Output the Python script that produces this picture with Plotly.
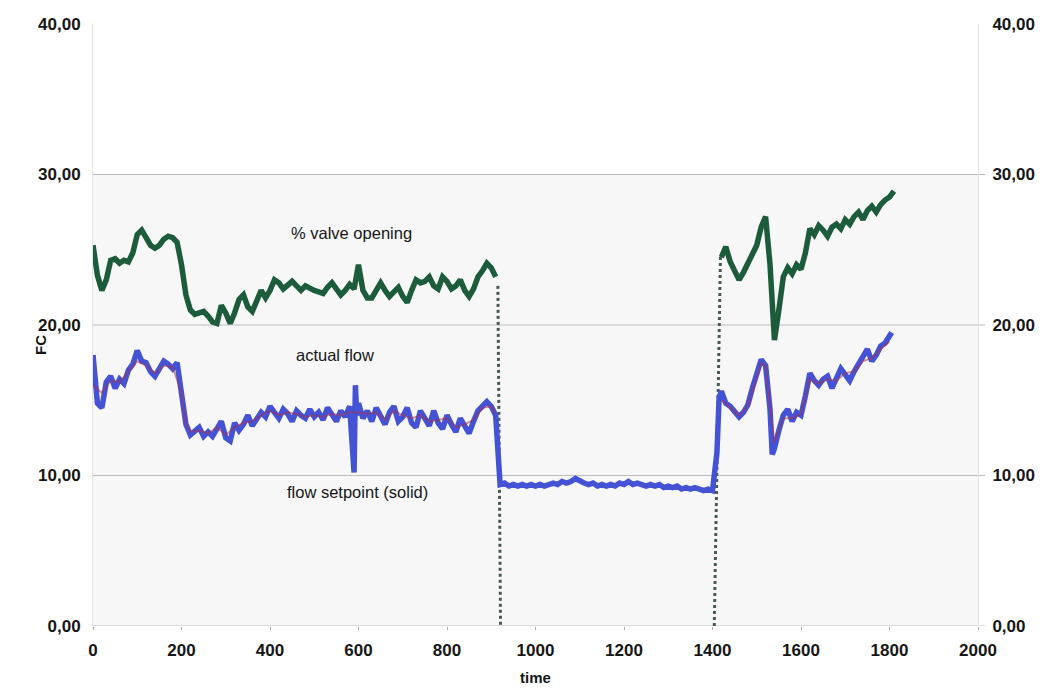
import plotly.graph_objects as go

# ---------------- data ----------------
# % valve opening, first run (t = 0 .. 910, step 10)
valve_t1 = list(range(0, 920, 10))
valve_v1 = [25.3, 23.3, 22.3, 23.0, 24.3, 24.4, 24.1, 24.3, 24.2, 24.8,
            26.0, 26.3, 25.8, 25.3, 25.1, 25.3, 25.7, 25.9, 25.8, 25.5,
            24.0, 22.0, 21.0, 20.7, 20.8, 20.9, 20.6, 20.2, 20.1, 21.3,
            20.8, 20.1, 20.8, 21.7, 22.0, 21.2, 20.9, 21.6, 22.3, 21.8,
            22.3, 23.0, 22.8, 22.4, 22.7, 22.9, 22.6, 22.3, 22.6, 22.4,
            22.3, 22.2, 22.1, 22.5, 22.8, 22.4, 22.0, 22.3, 22.7, 22.4,
            24.0, 22.3, 21.8, 21.8, 22.4, 22.8, 22.3, 21.9, 22.2, 22.5,
            21.9, 21.5, 22.3, 23.0, 22.8, 22.9, 23.2, 22.6, 22.4, 23.2,
            22.9, 22.4, 22.6, 23.0, 22.3, 21.9, 22.4, 23.2, 23.6, 24.1,
            23.8, 23.2]
# % valve opening, second run
valve_t2 = [1420, 1430, 1440, 1450, 1460, 1470, 1480, 1490, 1500, 1510,
            1520, 1530, 1540, 1550, 1560, 1570, 1580, 1590, 1600, 1610,
            1620, 1630, 1640, 1650, 1660, 1670, 1680, 1690, 1700, 1710,
            1720, 1730, 1740, 1750, 1760, 1770, 1780, 1790, 1800, 1810]
valve_v2 = [24.5, 25.2, 24.2, 23.5, 23.0, 23.5, 24.1, 24.7, 25.3, 26.5,
            27.2, 24.0, 19.0, 21.0, 23.2, 23.8, 23.4, 24.0, 23.7, 24.8,
            26.4, 26.0, 26.6, 26.3, 25.9, 26.5, 26.7, 26.4, 27.0, 26.7,
            27.2, 27.5, 27.0, 27.6, 27.9, 27.5, 28.0, 28.3, 28.5, 28.9]
# valve transitions (shut and re-open, dotted)
valve_drop_t = [915, 921]
valve_drop_v = [22.6, 0.0]
valve_rise_t = [1404, 1418]
valve_rise_v = [0.0, 24.6]

# actual flow
flow_t = sorted(list(range(0, 590, 10)) + [590, 593, 596] + list(range(600, 920, 10))
                + [920] + list(range(930, 1410, 10)) + [1410, 1415]
                + list(range(1420, 1540, 10)) + [1535] + list(range(1540, 1810, 10))
                + [1805])
flow_v = [18.0, 14.8, 14.5, 16.2, 16.6, 15.8, 16.4, 16.1, 17.0, 17.4,
          18.3, 17.6, 17.5, 16.9, 16.6, 17.1, 17.6, 17.4, 17.1, 17.5,
          15.4, 13.4, 12.7, 12.9, 13.2, 12.6, 12.9, 12.6, 13.2, 13.6,
          12.5, 12.3, 13.5, 13.0, 13.4, 14.0, 13.3, 13.8, 14.2, 13.9,
          14.6, 14.2, 13.8, 14.4, 14.1, 13.6, 14.3, 14.0, 13.8, 14.4,
          13.9, 14.2, 13.7, 14.5, 14.0, 13.6, 14.3, 13.9, 14.6,
          10.2, 16.0, 14.0,
          14.8, 13.8, 14.3, 13.6, 14.5, 14.0, 13.4, 14.2, 14.6, 13.6,
          13.9, 14.5, 13.5, 13.2, 14.3, 13.8, 13.3, 14.3, 13.5, 13.1,
          14.0, 13.4, 12.9, 13.8, 13.2, 12.8, 13.6, 14.3, 14.6, 14.9,
          14.6, 14.0,
          9.4,
          9.5, 9.3, 9.4, 9.3, 9.4, 9.3, 9.4, 9.3, 9.4, 9.3,
          9.4, 9.5, 9.4, 9.6, 9.5, 9.6, 9.8, 9.6, 9.5, 9.4,
          9.5, 9.3, 9.4, 9.3, 9.4, 9.3, 9.5, 9.4, 9.6, 9.4,
          9.5, 9.4, 9.3, 9.4, 9.3, 9.4, 9.2, 9.3, 9.2, 9.3,
          9.1, 9.2, 9.1, 9.2, 9.1, 9.0, 9.1, 9.0,
          11.5, 15.2,
          15.6, 14.8, 14.6, 14.3, 13.9, 14.2, 14.7, 15.8, 16.9, 17.7,
          17.3, 14.4,
          11.4,
          11.8, 13.0, 14.0, 14.4, 13.6, 14.2, 14.0, 15.3, 16.8, 16.3,
          16.0, 16.4, 16.6, 15.8, 16.5, 17.1, 16.7, 16.3, 16.9, 17.5,
          17.9, 18.4, 17.6, 18.0, 18.6, 18.8, 19.2,
          19.5]

# flow setpoint (solid)
setp_t = [0, 20, 40, 60, 80, 100, 120, 140, 160, 180, 200, 210, 220, 240,
          260, 280, 300, 320, 340, 360, 380, 400, 420, 440, 460, 480, 500,
          520, 540, 560, 580, 600, 620, 640, 660, 680, 700, 720, 740, 760,
          780, 800, 820, 840, 860, 880, 900, 910, None,
          1420, 1440, 1460, 1480, 1500, 1510, 1520, 1530, 1540, 1560, 1580,
          1600, 1620, 1640, 1660, 1680, 1700, 1720, 1740, 1760, 1780, 1800]
setp_v = [16.0, 15.5, 16.3, 16.2, 16.9, 17.6, 17.3, 16.8, 17.3, 17.2, 15.5,
          13.5, 12.9, 13.0, 12.8, 13.2, 12.7, 13.2, 13.5, 13.6, 14.0, 14.3,
          14.0, 14.2, 14.1, 13.9, 14.0, 13.9, 14.1, 14.0, 14.2, 14.2, 14.1,
          14.2, 13.7, 14.3, 14.0, 13.8, 14.0, 13.6, 13.7, 13.8, 13.2, 13.4,
          13.7, 14.5, 14.6, 14.1, None,
          15.0, 14.5, 14.0, 14.6, 16.6, 17.5, 17.2, 14.8, 12.2, 13.8, 13.8,
          14.1, 16.4, 16.1, 16.4, 16.3, 16.8, 16.9, 17.6, 17.8, 18.4, 18.9]

x_ticks = [0, 200, 400, 600, 800, 1000, 1200, 1400, 1600, 1800, 2000]
y_ticks = [0, 10, 20, 30, 40]
grid_vals = [0, 10, 20, 30]

labels = [("% valve opening", 585, 26.1),
          ("actual flow", 547, 18.0),
          ("flow setpoint (solid)", 597, 8.9)]

# ---------------- figure ----------------
GREEN = "rgb(28,92,58)"
BLUE = "rgb(68,82,214)"
RED = "rgb(170,50,75)"
FONT = "Liberation Sans, Arial, sans-serif"
TXT = "#161616"

# the page body adds an 8 px offset; margins are chosen so that the plot area
# sits at window x 93..978 and y 24..626
PL, PR, PT, PB = 85, 75, 16, 70
W, H = 1045, 688

fig = go.Figure()

fig.add_trace(go.Scatter(x=valve_drop_t, y=valve_drop_v, mode="lines",
                         line=dict(color="rgb(70,90,80)", width=3, dash="dot"),
                         showlegend=False, hoverinfo="skip"))
fig.add_trace(go.Scatter(x=valve_rise_t, y=valve_rise_v, mode="lines",
                         line=dict(color="rgb(70,90,80)", width=3, dash="dot"),
                         showlegend=False, hoverinfo="skip"))
fig.add_trace(go.Scatter(x=valve_t1, y=valve_v1, mode="lines",
                         line=dict(color=GREEN, width=5.5), name="% valve opening",
                         showlegend=False))
fig.add_trace(go.Scatter(x=valve_t2, y=valve_v2, mode="lines",
                         line=dict(color=GREEN, width=5.5), showlegend=False))
fig.add_trace(go.Scatter(x=flow_t, y=flow_v, mode="lines",
                         line=dict(color=BLUE, width=5.5), name="actual flow",
                         showlegend=False))
fig.add_trace(go.Scatter(x=setp_t, y=setp_v, mode="lines",
                         line=dict(color=RED, width=1.8), opacity=0.55,
                         name="flow setpoint", showlegend=False, connectgaps=False))
# dummy trace so the right-hand axis is drawn
fig.add_trace(go.Scatter(x=[None], y=[None], yaxis="y2", showlegend=False,
                         hoverinfo="skip"))

shapes = [dict(type="rect", xref="paper", yref="y", x0=0, x1=1, y0=0, y1=30,
               fillcolor="#f7f7f7", line=dict(width=0), layer="below")]
for g in grid_vals:
    shapes.append(dict(type="line", xref="paper", yref="y", x0=0, x1=1.008,
                       y0=g, y1=g, line=dict(color="#bdbdbd", width=1),
                       layer="below"))

annotations = [dict(text=t, x=x, y=y, xref="x", yref="y", showarrow=False,
                    font=dict(family=FONT, size=16.5, color=TXT))
               for t, x, y in labels]


def px_to_paper(px, py):
    # window pixel -> paper fraction (figure drawn 8 px in from the window edge)
    fx, fy = px - 8, py - 8
    return (fx - PL) / (W - PL - PR), (H - PB - fy) / (H - PT - PB)


fx, fy = px_to_paper(40, 345)
annotations.append(dict(text="FC", x=fx, y=fy, xref="paper", yref="paper",
                        xanchor="center", yanchor="middle",
                        showarrow=False, textangle=-90,
                        font=dict(family=FONT, size=15, color=TXT, weight="bold")))
fx, fy = px_to_paper(535, 678)
annotations.append(dict(text="time", x=fx, y=fy, xref="paper", yref="paper",
                        xanchor="center", yanchor="middle",
                        showarrow=False,
                        font=dict(family=FONT, size=15, color=TXT, weight="bold")))

tickfont = dict(family=FONT, size=17, color=TXT, weight="bold")

fig.update_layout(
    width=W, height=H,
    margin=dict(l=PL, r=PR, t=PT, b=PB, autoexpand=False),
    paper_bgcolor="white", plot_bgcolor="white",
    separators=", ",
    shapes=shapes, annotations=annotations,
    font=dict(family=FONT, color=TXT),
    xaxis=dict(range=[0, 2000], tickvals=x_ticks, showgrid=False, zeroline=False,
               showline=False, ticks="outside", ticklen=3, tickcolor="#aaaaaa",
               ticklabelstandoff=6, automargin=False, tickfont=tickfont),
    yaxis=dict(range=[0, 40], tickvals=y_ticks, tickformat=".2f", showgrid=False,
               zeroline=False, showline=True, linecolor="#e2e2e2", linewidth=1,
               ticks="", ticklabelstandoff=8, automargin=False, tickfont=tickfont),
    yaxis2=dict(range=[0, 40], tickvals=y_ticks, tickformat=".2f", overlaying="y",
                side="right", showgrid=False, zeroline=False, showline=True,
                linecolor="#e2e2e2", ticks="", ticklabelstandoff=10,
                automargin=False, tickfont=tickfont),
)

fig.write_html("out.html")
